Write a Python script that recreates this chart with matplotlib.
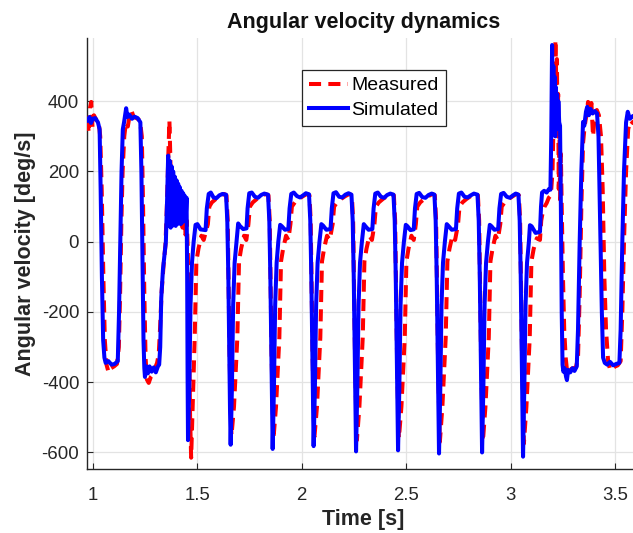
import matplotlib
matplotlib.use("Agg")
import matplotlib.pyplot as plt

plt.rcParams['font.family'] = ['Liberation Sans', 'DejaVu Sans']
plt.rcParams['axes.unicode_minus'] = False

# ---------------- data ----------------
title = "Angular velocity dynamics"
xlabel = "Time [s]"
ylabel = "Angular velocity [deg/s]"
series_names = ["Measured", "Simulated"]
xticks = [1, 1.5, 2, 2.5, 3, 3.5]
xticklabels = ["1", "1.5", "2", "2.5", "3", "3.5"]
yticks = [-600, -400, -200, 0, 200, 400]
yticklabels = ["-600", "-400", "-200", "0", "200", "400"]

# Simulated angular velocity (time [s], value [deg/s])
sim_t = [
    0.975, 0.985, 0.992, 1.000, 1.012, 1.025, 1.033, 1.038, 1.044, 1.050, 1.056, 1.062,
    1.075, 1.090, 1.105, 1.120, 1.126, 1.132, 1.138, 1.144, 1.150, 1.160, 1.166, 1.175,
    1.188, 1.200, 1.215, 1.228, 1.233, 1.238, 1.243, 1.247, 1.250, 1.256, 1.264, 1.272,
    1.282, 1.292, 1.302, 1.312, 1.318, 1.323, 1.328, 1.336, 1.343, 1.350, 1.356,
    1.361, 1.365, 1.369, 1.373, 1.377, 1.381, 1.385, 1.389, 1.393, 1.397, 1.401, 1.405,
    1.409, 1.413, 1.417, 1.421, 1.425, 1.429, 1.433, 1.437, 1.441, 1.445, 1.449, 1.452,
    1.454,
    1.456, 1.462, 1.468, 1.475, 1.483, 1.492, 1.501, 1.516, 1.540, 1.546, 1.555, 1.565,
    1.578, 1.592, 1.606, 1.621, 1.638, 1.644, 1.649, 1.654, 1.657,
    1.660, 1.666, 1.672, 1.679, 1.688, 1.696, 1.704, 1.720, 1.736, 1.741, 1.749, 1.761,
    1.776, 1.791, 1.806, 1.821, 1.839, 1.845, 1.850, 1.855, 1.858,
    1.861, 1.867, 1.873, 1.880, 1.888, 1.897, 1.905, 1.920, 1.936, 1.942, 1.950, 1.962,
    1.977, 1.992, 2.007, 2.020, 2.035, 2.041, 2.046, 2.051, 2.054,
    2.057, 2.063, 2.069, 2.076, 2.085, 2.094, 2.102, 2.118, 2.138, 2.144, 2.152, 2.164,
    2.179, 2.194, 2.209, 2.224, 2.238, 2.244, 2.249, 2.254, 2.257,
    2.260, 2.266, 2.272, 2.279, 2.288, 2.297, 2.305, 2.320, 2.338, 2.344, 2.352, 2.364,
    2.379, 2.394, 2.409, 2.424, 2.439, 2.445, 2.450, 2.455, 2.458,
    2.461, 2.467, 2.473, 2.480, 2.489, 2.498, 2.506, 2.520, 2.536, 2.542, 2.550, 2.562,
    2.577, 2.592, 2.607, 2.622, 2.635, 2.641, 2.646, 2.651, 2.654,
    2.657, 2.663, 2.669, 2.676, 2.685, 2.694, 2.702, 2.718, 2.738, 2.744, 2.752, 2.764,
    2.779, 2.794, 2.809, 2.824, 2.841, 2.847, 2.852, 2.857, 2.860,
    2.863, 2.869, 2.875, 2.882, 2.891, 2.900, 2.908, 2.922, 2.940, 2.946, 2.954, 2.966,
    2.981, 2.996, 3.011, 3.024, 3.037, 3.043, 3.048, 3.053, 3.056,
    3.059, 3.065, 3.071, 3.078, 3.087, 3.092, 3.100, 3.119, 3.140, 3.145, 3.150, 3.160,
    3.172, 3.183, 3.190, 3.194, 3.198, 3.201, 3.204, 3.207, 3.210, 3.213, 3.216, 3.219,
    3.222, 3.225, 3.228, 3.232, 3.236, 3.240, 3.244, 3.248, 3.252, 3.258, 3.265, 3.269,
    3.275, 3.285, 3.295, 3.305, 3.316, 3.322, 3.330, 3.338, 3.346, 3.352, 3.360, 3.366,
    3.374, 3.382, 3.392, 3.402, 3.413, 3.420, 3.428, 3.436, 3.442, 3.450, 3.462, 3.475,
    3.490, 3.505, 3.520, 3.526, 3.534, 3.542, 3.552, 3.560, 3.570, 3.585, 3.616,
]
sim_w = [
    345, 355, 338, 350, 352, 340, 320, 150, -100, -280, -330, -345,
    -340, -350, -348, -340, -200, 0, 200, 320, 340, 380, 355, 362,
    350, 356, 352, 340, 200, -50, -280, -360, -385, -355, -375, -355,
    -370, -358, -372, -355, -350, -300, -160, -80, -40, 0, 120,
    245, 45, 230, 40, 215, 45, 200, 50, 185, 45, 175, 50,
    165, 55, 155, 50, 145, 55, 138, 60, 130, 65, 125, -100,
    -380,
    -565, -420, -180, -60, 0, 48, 50, 35, 33, 95, 136, 140,
    126, 124, 132, 136, 134, 60, -100, -330, -480,
    -578, -420, -180, -60, 0, 52, 45, 36, 38, 95, 138, 140,
    128, 125, 133, 137, 134, 60, -100, -330, -480,
    -590, -420, -180, -60, 0, 48, 44, 34, 36, 95, 136, 140,
    130, 126, 132, 138, 135, 60, -100, -330, -480,
    -582, -420, -180, -60, 0, 50, 46, 34, 36, 95, 138, 141,
    128, 126, 134, 138, 134, 60, -100, -330, -480,
    -597, -420, -180, -60, 0, 50, 44, 34, 36, 95, 137, 140,
    128, 125, 133, 137, 134, 60, -100, -330, -480,
    -594, -420, -180, -60, 0, 48, 44, 33, 35, 95, 136, 139,
    127, 125, 133, 137, 134, 60, -100, -330, -480,
    -603, -420, -180, -60, 0, 50, 45, 34, 36, 95, 137, 140,
    128, 126, 132, 137, 134, 60, -100, -330, -480,
    -600, -420, -180, -60, 0, 48, 44, 34, 36, 95, 136, 139,
    128, 125, 132, 137, 134, 60, -100, -330, -480,
    -612, -420, -180, -60, 0, 47, 44, 25, 28, 100, 140, 145,
    140, 150, 148, 300, 560, 400, 500, 330, 470, 300, 440, 320,
    420, 330, 400, 340, 330, 100, -200, -350, -370, -360, -385, -394,
    -365, -372, -360, -368, -355, -250, 0, 200, 341, 330, 370, 384,
    360, 378, 365, 372, 365, 300, 50, -200, -330, -345, -350, -342,
    -352, -348, -345, -250, 0, 200, 340, 370, 350, 358, 360,
]

# Measured angular velocity (time [s], value [deg/s])
meas_t = [
    0.975, 0.981, 0.987, 0.993, 0.999, 1.006, 1.016, 1.028, 1.036, 1.043, 1.051, 1.058,
    1.066, 1.076, 1.088, 1.102, 1.116, 1.125, 1.131, 1.137, 1.143, 1.151, 1.159, 1.168,
    1.178, 1.186, 1.196, 1.210, 1.226, 1.235, 1.241, 1.247, 1.253, 1.259, 1.268, 1.278,
    1.288, 1.298, 1.308, 1.316, 1.322, 1.330, 1.340, 1.348, 1.356, 1.362, 1.367, 1.371,
    1.375, 1.380, 1.386, 1.392, 1.398, 1.406, 1.414, 1.422, 1.430, 1.438, 1.444, 1.450,
    1.455, 1.460, 1.466, 1.471, 1.478, 1.488, 1.496, 1.506, 1.520, 1.531, 1.551, 1.558,
    1.570, 1.590, 1.610, 1.628, 1.640, 1.646, 1.650, 1.655, 1.661,
    1.664, 1.676, 1.692, 1.700, 1.710, 1.724, 1.735, 1.745, 1.752, 1.766, 1.786, 1.806,
    1.826, 1.841, 1.847, 1.851, 1.856, 1.862,
    1.865, 1.877, 1.893, 1.901, 1.911, 1.925, 1.936, 1.946, 1.953, 1.967, 1.987, 2.007,
    2.025, 2.037, 2.043, 2.047, 2.052, 2.058,
    2.061, 2.073, 2.089, 2.097, 2.107, 2.121, 2.134, 2.148, 2.155, 2.169, 2.189, 2.209,
    2.228, 2.240, 2.246, 2.250, 2.255, 2.261,
    2.264, 2.276, 2.292, 2.300, 2.310, 2.324, 2.336, 2.348, 2.355, 2.369, 2.389, 2.409,
    2.428, 2.441, 2.447, 2.451, 2.456, 2.462,
    2.465, 2.477, 2.493, 2.501, 2.511, 2.525, 2.536, 2.546, 2.553, 2.567, 2.587, 2.607,
    2.625, 2.637, 2.643, 2.647, 2.652, 2.658,
    2.661, 2.673, 2.689, 2.697, 2.707, 2.721, 2.734, 2.748, 2.755, 2.769, 2.789, 2.809,
    2.829, 2.843, 2.849, 2.853, 2.858, 2.864,
    2.867, 2.879, 2.895, 2.903, 2.913, 2.927, 2.938, 2.950, 2.957, 2.971, 2.991, 3.011,
    3.027, 3.039, 3.045, 3.049, 3.054, 3.060,
    3.063, 3.075, 3.091, 3.099, 3.110, 3.125, 3.140, 3.146, 3.152, 3.162, 3.172, 3.182,
    3.192, 3.200, 3.207, 3.214, 3.218, 3.221, 3.224, 3.227, 3.230, 3.233, 3.236, 3.240,
    3.244, 3.250, 3.256, 3.263, 3.270, 3.280, 3.290, 3.300, 3.312, 3.322, 3.330, 3.338,
    3.346, 3.354, 3.362, 3.370, 3.378, 3.386, 3.394, 3.402, 3.412, 3.422, 3.432, 3.440,
    3.448, 3.456, 3.466, 3.476, 3.488, 3.500, 3.512, 3.526, 3.534, 3.542, 3.552, 3.562,
    3.572, 3.585, 3.616,
]
meas_w = [
    350, 310, 380, 398, 325, 360, 348, 345, 300, 150, -100, -280,
    -350, -372, -360, -355, -348, -300, -150, 50, 200, 300, 340, 328,
    365, 372, 355, 352, 345, 300, 100, -150, -330, -392, -402, -385,
    -378, -360, -345, -320, -250, -140, -60, -10, 120, 250, 345, 250,
    140, 200, 100, 170, 80, 150, 60, 130, 40, 120, 20, 60,
    -24, -250, -500, -615, -470, -273, -56, -20, 17, 5, 50, 100,
    112, 122, 130, 136, 132, 60, -100, -320, -500,
    -552, -470, -273, -56, -20, 17, 5, 50, 100, 112, 122, 130,
    136, 132, 60, -100, -320, -500,
    -560, -470, -273, -56, -20, 17, 5, 50, 100, 112, 122, 130,
    136, 132, 60, -100, -320, -500,
    -555, -470, -273, -56, -20, 17, 5, 50, 100, 112, 122, 130,
    136, 132, 60, -100, -320, -500,
    -565, -470, -273, -56, -20, 17, 5, 50, 100, 112, 122, 130,
    136, 132, 60, -100, -320, -500,
    -560, -470, -273, -56, -20, 17, 5, 50, 100, 112, 122, 130,
    136, 132, 60, -100, -320, -500,
    -570, -470, -273, -56, -20, 17, 5, 50, 100, 112, 122, 130,
    136, 132, 60, -100, -320, -500,
    -568, -470, -273, -56, -20, 17, 5, 50, 100, 112, 122, 130,
    136, 132, 60, -100, -320, -500,
    -575, -470, -273, -56, -20, 10, 5, 60, 80, 100, 110, 125,
    132, 200, 400, 575, 450, 520, 300, 420, 150, 320, 120, 250,
    100, -100, -250, -330, -370, -375, -362, -360, -358, -330, -150, 100,
    280, 330, 360, 398, 370, 395, 300, 360, 375, 360, 300, 150,
    -100, -250, -340, -366, -360, -355, -352, -340, -200, 0, 200, 320,
    345, 338, 340,
]

# ---------------- figure ----------------
fig = plt.figure(figsize=(6.33, 5.33), dpi=100)
ax = fig.add_axes([0.1382, 0.1195, 0.872, 0.8092])

lw = 2.9
ax.plot(meas_t, meas_w, color=(1, 0, 0), lw=lw, linestyle=(0, (3.0, 1.8)),
        label=series_names[0], zorder=3)
ax.plot(sim_t, sim_w, color=(0, 0, 1), lw=lw, linestyle='-',
        label=series_names[1], zorder=4)

ax.set_xlim(0.975, 3.616)
ax.set_ylim(-648, 580)
ax.set_xticks(xticks)
ax.set_xticklabels(xticklabels)
ax.set_yticks(yticks)
ax.set_yticklabels(yticklabels)

ax.grid(True, color='#e3e3e3', linewidth=0.9, zorder=0)
ax.set_axisbelow(True)
for s in ['top', 'right']:
    ax.spines[s].set_visible(False)
for s in ['left', 'bottom']:
    ax.spines[s].set_color('#262626')
    ax.spines[s].set_linewidth(1.0)
ax.tick_params(direction='in', length=4, width=0.8, colors='#262626',
               labelsize=13.4)
ax.tick_params(axis='x', pad=12.5)
ax.tick_params(axis='y', pad=6)
for lab in ax.get_xticklabels() + ax.get_yticklabels():
    lab.set_color('#262626')

ax.set_title(title, fontsize=15.5, fontweight='bold', color='#111111', pad=7)
ax.set_xlabel(xlabel, fontsize=15.5, fontweight='bold', color='#262626', labelpad=4)
ax.set_ylabel(ylabel, fontsize=15.5, fontweight='bold', color='#262626', labelpad=4)

leg = ax.legend(loc='upper left', bbox_to_anchor=(302 / 633, 1 - 70 / 533),
                bbox_transform=fig.transFigure, fontsize=14, frameon=True,
                fancybox=False, framealpha=1, edgecolor='#262626',
                handlelength=2.0, handletextpad=0.2, borderpad=0.35,
                labelspacing=0.35, borderaxespad=0)
leg.get_frame().set_linewidth(0.9)

fig.savefig("out.png", dpi=100)
